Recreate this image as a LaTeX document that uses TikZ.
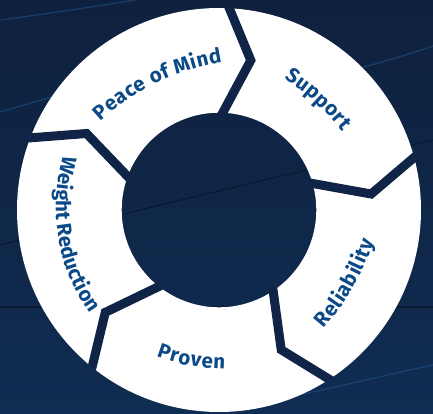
\documentclass[tikz,border=0pt]{standalone}
\usepackage{fontspec}
\usetikzlibrary{decorations.text}
\newfontfamily\lblfam{Fira Sans}
\definecolor{bgtop}{HTML}{0F213E}
\definecolor{bgbot}{HTML}{0F2C52}
\definecolor{sepc}{HTML}{0F2446}
\definecolor{tc}{HTML}{0B4A87}
\definecolor{bgline}{HTML}{1D4C80}
\definecolor{darkline}{HTML}{08162B}
\newcommand\lblfont{\lblfam\bfseries\fontsize{20.5}{22}\selectfont\color{tc}}
\begin{document}
\begin{tikzpicture}[x=1pt,y=1pt,
  sepband/.style={draw=sepc, line width=9pt, line join=miter, line cap=butt},
  lbl/.style={decoration={text along path, text={|\lblfont|#1}, text align={fit to path}}, decorate},
  bgl/.style={draw=bgline, line width=1.2pt, opacity=0.7},
  dkl/.style={draw=darkline, line width=1.2pt, opacity=0.8}]
\useasboundingbox (-219,-204) rectangle (214,210);
\shade[top color=bgtop, bottom color=bgbot] (-219,-204) rectangle (214,210);
% faint background lines
\draw[bgl] (-219,190) .. controls (-160,198) and (-120,204) .. (-84,210);
\draw[bgl] (-219,98) -- (-150,118);
\draw[bgl] (100,130) .. controls (140,142) and (180,152) .. (214,164);
\draw[dkl] (-219,-35) .. controls (-96,-3) and (88,40) .. (214,70);
\draw[dkl] (-219,-97) -- (214,-97);
\draw[bgl] (80,-185) .. controls (140,-172) and (180,-162) .. (214,-155);
% ring
\fill[white, even odd rule] (0,0) circle[radius=202] (0,0) circle[radius=97.3];
% separators
\begin{scope}
\clip (0,0) circle[radius=202.5];
\foreach \t in {0,-72,-144,-216,-288}
  \draw[sepband] (\t+88.5:95) -- (\t+78:153) -- (\t+88.7:215);
\end{scope}
% labels
\path[lbl=Peace of Mind, shift={(116:-88.5)}] (133.07:230) arc[start angle=133.07, end angle=98.93, radius=230];
\path[lbl=Support, shift={(48:-85.5)}] (57.84:230) arc[start angle=57.84, end angle=38.16, radius=230];
\path[lbl=Reliability, shift={(-30:-105)}] (-41.24:260) arc[start angle=-41.24, end angle=-18.76, radius=260];
\path[lbl=Proven, shift={(-100.5:-41.5)}] (-110.53:200) arc[start angle=-110.53, end angle=-90.47, radius=200];
\path[lbl=Weight Reduction, shift={(189:-19)}] (163.5:182) arc[start angle=163.5, end angle=214.5, radius=182];
\end{tikzpicture}
\end{document}
